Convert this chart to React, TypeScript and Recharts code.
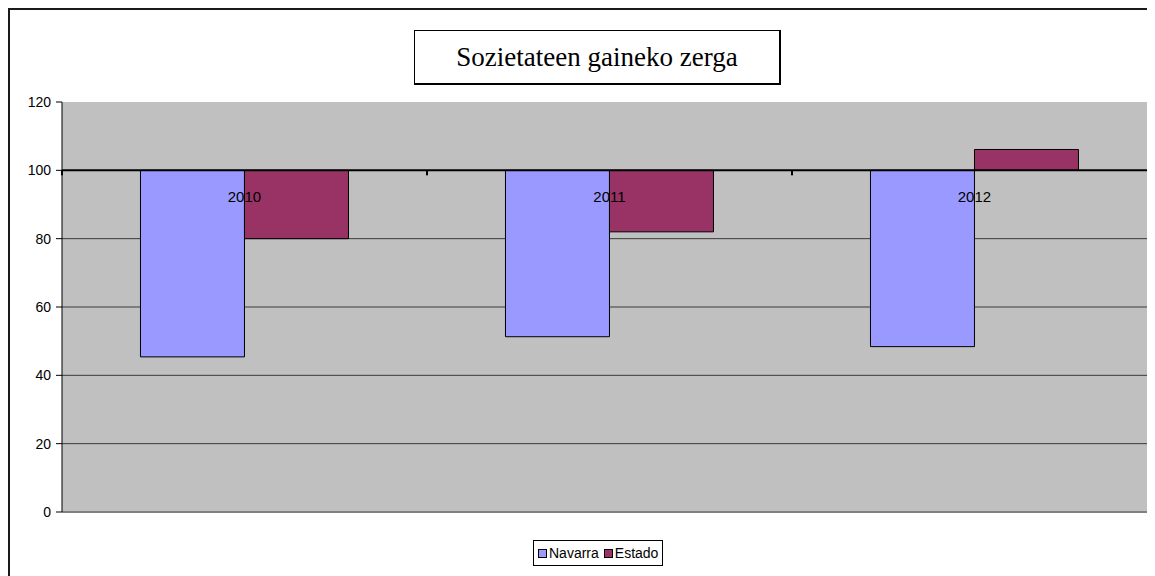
import React from "react";
import {
  BarChart,
  Bar,
  XAxis,
  YAxis,
  CartesianGrid,
  ReferenceLine,
  LabelList,
} from "recharts";

const years = ["2010", "2011", "2012"];
const navarra = [45.4, 51.3, 48.4];
const estado = [80.0, 82.0, 106.1];
const baseline = 100;
const yTicks = [0, 20, 40, 60, 80, 100, 120];
const seriesNames = ["Navarra", "Estado"];
const seriesColors = ["#9999FF", "#993366"];
const title = "Sozietateen gaineko zerga";

const data = years.map((y, i) => ({
  year: y,
  navarra: [baseline, navarra[i]],
  estado: [baseline, estado[i]],
}));

const CHART_W = 1160;
const CHART_H = 566;
const GAP = 0.215;

const YearLabel = (props: any) => {
  const { x, y, width, height, value } = props;
  const top = Math.min(y, y + height);
  const center = x + width;
  const band = (2 * width) / (1 - 2 * GAP);
  const left = center - band / 2;
  return (
    <g>
      <line x1={left} x2={left} y1={top} y2={top + 5} stroke="#000" strokeWidth={2} />
      <text
        x={center}
        y={top + 32}
        textAnchor="middle"
        fontFamily="'Liberation Sans', Arial, sans-serif"
        fontSize={15}
        fill="#000"
      >
        {value}
      </text>
    </g>
  );
};

export default function App() {
  return (
    <div
      style={{
        position: "relative",
        width: 1145,
        height: 566,
        borderLeft: "2px solid #1a1a1a",
        borderTop: "2px solid #1a1a1a",
        overflow: "hidden",
        background: "#fff",
      }}
    >
      <BarChart
        width={CHART_W}
        height={CHART_H}
        data={data}
        margin={{ top: 92, right: 13, bottom: 63, left: 0 }}
        barCategoryGap={`${GAP * 100}%`}
        barGap={0}
      >
        <CartesianGrid
          fill="#C0C0C0"
          vertical={false}
          stroke="#3a3a3a"
          horizontalValues={[20, 40, 60, 80]}
        />
        <XAxis
          dataKey="year"
          tick={false}
          tickLine={false}
          height={1}
          axisLine={{ stroke: "#808080", strokeWidth: 2 }}
        />
        <YAxis
          domain={[0, 120]}
          ticks={yTicks}
          width={52}
          tickSize={6}
          tickMargin={5}
          interval={0}
          axisLine={{ stroke: "#000", strokeWidth: 1 }}
          tickLine={{ stroke: "#000" }}
          tick={{ fill: "#000", fontSize: 14, fontFamily: "'Liberation Sans', Arial, sans-serif" }}
        />
        <ReferenceLine y={baseline} stroke="#000" strokeWidth={2} />
        <Bar
          dataKey="navarra"
          name={seriesNames[0]}
          fill={seriesColors[0]}
          stroke="#000"
          strokeWidth={1}
          isAnimationActive={false}
        >
          <LabelList dataKey="year" content={YearLabel} />
        </Bar>
        <Bar
          dataKey="estado"
          name={seriesNames[1]}
          fill={seriesColors[1]}
          stroke="#000"
          strokeWidth={1}
          isAnimationActive={false}
        />
      </BarChart>
      <div
        style={{
          position: "absolute",
          left: 404,
          top: 20,
          width: 364,
          height: 52,
          border: "1px solid #000",
          borderRightWidth: 2,
          borderBottomWidth: 2,
          background: "#fff",
          display: "flex",
          alignItems: "center",
          justifyContent: "center",
          fontFamily: "'Liberation Serif', 'Times New Roman', serif",
          fontSize: 27,
          color: "#000",
        }}
      >
        {title}
      </div>
      <div
        style={{
          position: "absolute",
          left: 523,
          top: 530,
          height: 24,
          padding: "0 4px",
          border: "1px solid #000",
          background: "#fff",
          display: "flex",
          alignItems: "center",
          gap: 5,
          fontFamily: "'Liberation Sans', Arial, sans-serif",
          fontSize: 14,
          color: "#000",
        }}
      >
        {seriesNames.map((n, i) => (
          <span key={n} style={{ display: "flex", alignItems: "center" }}>
            <span
              style={{
                display: "inline-block",
                width: 7,
                height: 7,
                background: seriesColors[i],
                border: "1px solid #000",
                marginRight: 2,
              }}
            />
            {n}
          </span>
        ))}
      </div>
    </div>
  );
}
